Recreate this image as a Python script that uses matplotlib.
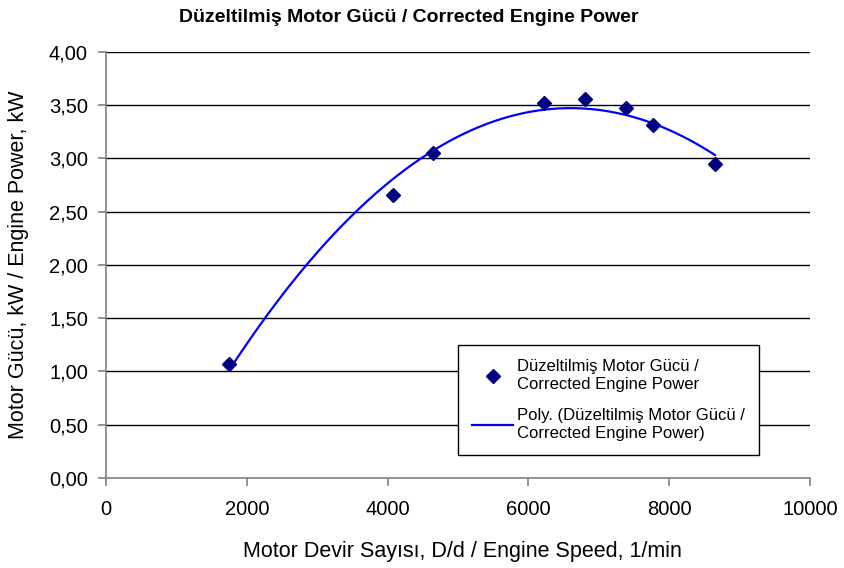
import numpy as np
import matplotlib.pyplot as plt
from matplotlib.ticker import FuncFormatter

plt.rcParams['font.family'] = ['Liberation Sans', 'DejaVu Sans']

# engine speed (1/min) and corrected power (kW)
speed = [1750, 4080, 4650, 6225, 6810, 7390, 7775, 8650]
power = [1.07, 2.66, 3.05, 3.52, 3.56, 3.47, 3.31, 2.95]

title = "Düzeltilmiş Motor Gücü / Corrected Engine Power"
xlabel = "Motor Devir Sayısı, D/d / Engine Speed, 1/min"
ylabel = "Motor Gücü, kW / Engine Power, kW"
lbl_pts = "Düzeltilmiş Motor Gücü /\nCorrected Engine Power"
lbl_fit = "Poly. (Düzeltilmiş Motor Gücü /\nCorrected Engine Power)"

# 2nd order trendline like Excel's "Poly."
coef = np.polyfit(speed, power, 2)
xs = np.linspace(min(speed), max(speed), 200)
ys = np.polyval(coef, xs)

fig = plt.figure(figsize=(8.45, 5.68), dpi=100)
ax = fig.add_axes([0.1254, 0.1585, 0.8332, 0.75])

ax.set_xlim(0, 10000)
ax.set_ylim(0, 4)
ax.set_xticks(range(0, 10001, 2000))
ax.set_yticks(np.arange(0, 4.01, 0.5))
ax.yaxis.set_major_formatter(FuncFormatter(lambda v, p: f"{v:.2f}".replace(".", ",")))

for y in np.arange(0.5, 4.01, 0.5):
    ax.axhline(y, color="black", lw=1.0, zorder=1)

fit_line, = ax.plot(xs, ys, color="#0000FF", lw=1.6, zorder=2)
pts, = ax.plot(speed, power, ls="none", marker="D", ms=7, color="#000080", zorder=3)

for s in ("top", "right"):
    ax.spines[s].set_visible(False)
for s in ("left", "bottom"):
    ax.spines[s].set_color("#808080")
    ax.spines[s].set_linewidth(1.2)

ax.tick_params(axis="both", direction="out", length=6, width=1.2, color="#808080",
               labelsize=14.5, labelcolor="black")
ax.tick_params(axis="y", pad=7)
ax.tick_params(axis="x", pad=10)

ax.set_xlabel(xlabel, fontsize=15.5)
ax.xaxis.set_label_coords(0.507, -0.148)
ax.set_ylabel(ylabel, fontsize=15.5)
ax.yaxis.set_label_coords(-0.109, 0.5)

fig.text(0.4834, 0.970, title, ha="center", va="center", fontsize=14, fontweight="bold")

leg = ax.legend([pts, fit_line], [lbl_pts, lbl_fit], loc="upper left",
                bbox_to_anchor=((458 - 106) / 704, (478 - 345) / 426),
                borderaxespad=0, fontsize=12, frameon=True, fancybox=False,
                framealpha=1, edgecolor="black", borderpad=0.85, labelspacing=1.0,
                handlelength=2.45, handletextpad=0.25)
leg.get_frame().set_linewidth(1.0)

fig.savefig("out.png", dpi=100)
